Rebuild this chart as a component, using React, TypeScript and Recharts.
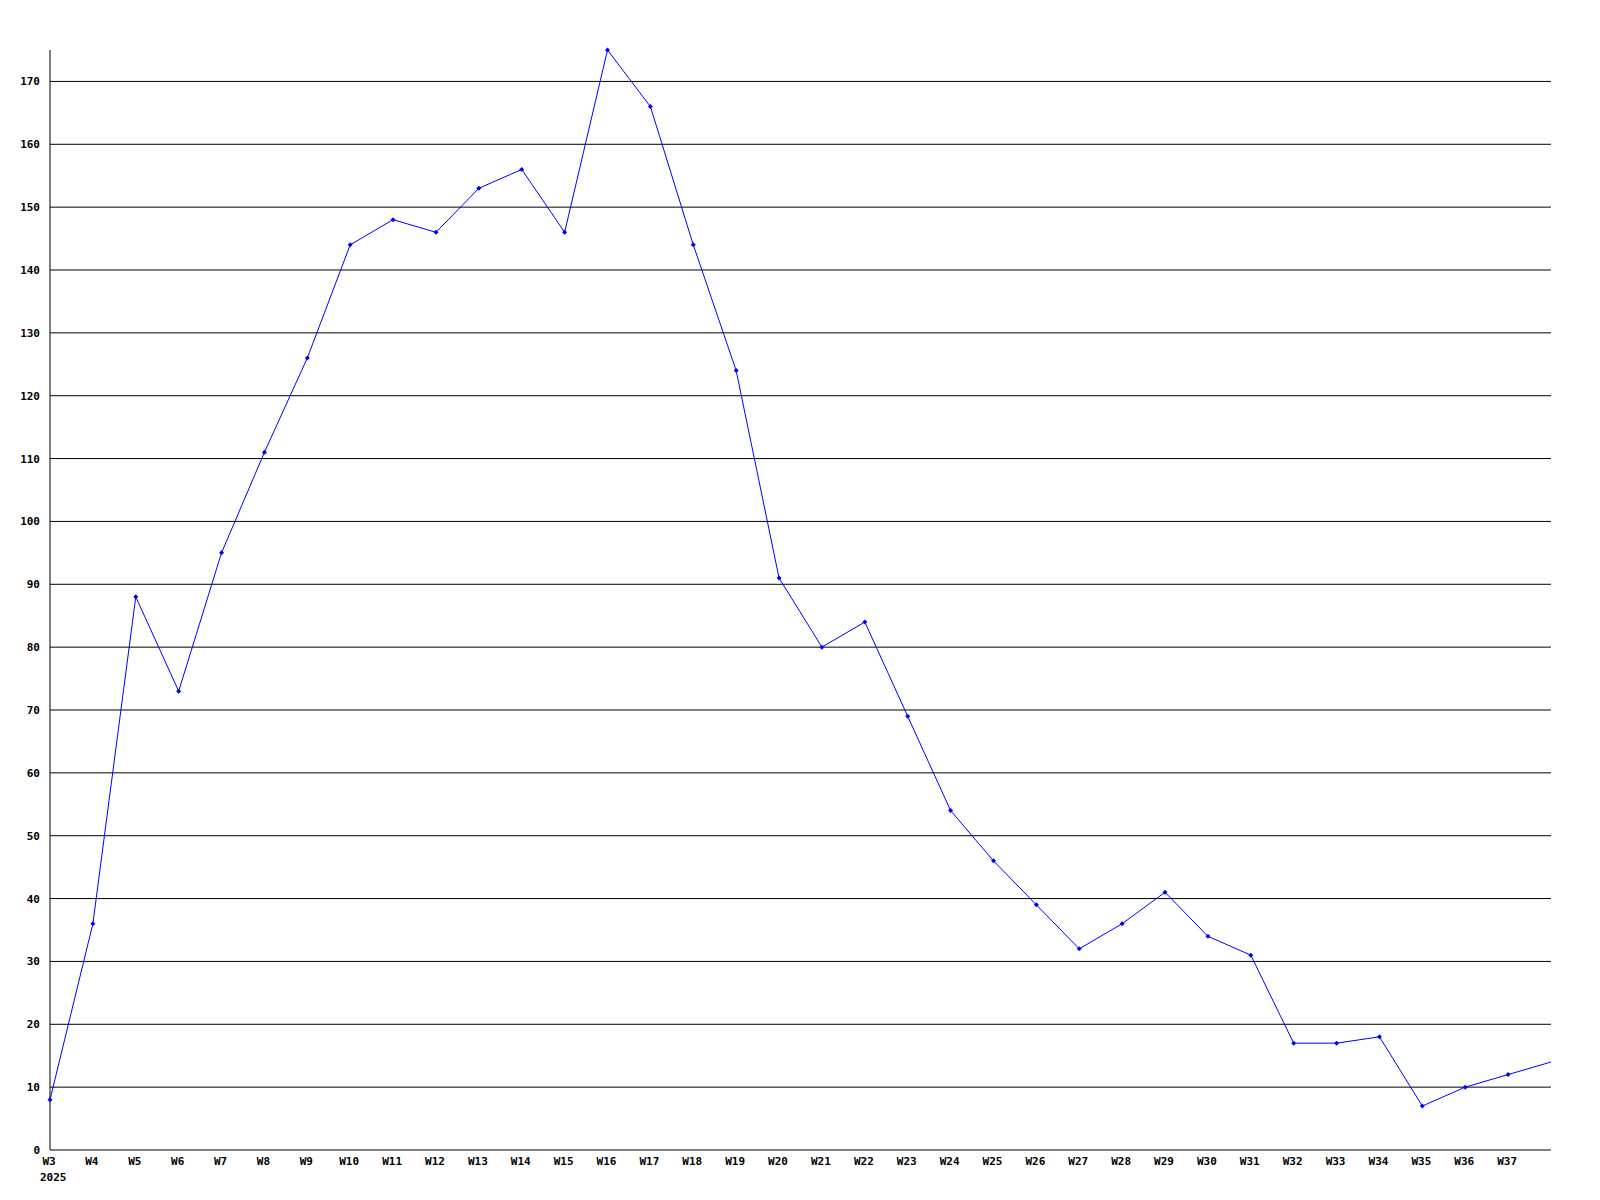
import React from 'react';
import { LineChart, Line, XAxis, YAxis, CartesianGrid } from 'recharts';

const weeks = ['W3','W4','W5','W6','W7','W8','W9','W10','W11','W12','W13','W14','W15','W16','W17','W18','W19','W20','W21','W22','W23','W24','W25','W26','W27','W28','W29','W30','W31','W32','W33','W34','W35','W36','W37','W38'];
const values = [8,36,88,73,95,111,126,144,148,146,153,156,146,175,166,144,124,91,80,84,69,54,46,39,32,36,41,34,31,17,17,18,7,10,12,14];
const yTicks = [0,10,20,30,40,50,60,70,80,90,100,110,120,130,140,150,160,170];
const hiddenTickLabels = ['W38'];
const yearLabel = '2025';

const data = weeks.map((w, i) => ({ week: w, value: values[i] }));

const FONT = '"DejaVu Sans Mono", monospace';

const XTick = (props: any) => {
  const { x, y, payload, index } = props;
  if (hiddenTickLabels.includes(payload.value)) return null;
  return (
    <g>
      <text x={x - 1} y={y} dy={8} textAnchor="middle" fontFamily={FONT} fontSize={11} fontWeight="bold" fill="#000">
        {payload.value}
      </text>
      {index === 0 && (
        <text x={x - 10} y={y} dy={24} textAnchor="start" fontFamily={FONT} fontSize={11} fontWeight="bold" fill="#000">
          {yearLabel}
        </text>
      )}
    </g>
  );
};

const YTick = (props: any) => {
  const { x, y, payload } = props;
  return (
    <text x={x} y={y} dy={4} textAnchor="end" fontFamily={FONT} fontSize={11} fontWeight="bold" fill="#000">
      {payload.value}
    </text>
  );
};

const Dot = (props: any) => {
  const { cx, cy, index } = props;
  if (cx == null || cy == null || index === values.length - 1) return null;
  return <polygon points={`${cx},${cy - 2.5} ${cx + 2.5},${cy} ${cx},${cy + 2.5} ${cx - 2.5},${cy}`} fill="#0000ff" stroke="none" />;
};

export default function App() {
  return (
    <div style={{ position: 'absolute', left: 0, top: 0, width: 1600, height: 1200, background: '#fff' }}>
      <LineChart width={1600} height={1200} data={data} margin={{ top: 50, right: 49, left: 0, bottom: 0 }}>
        <CartesianGrid
          vertical={false}
          stroke="#000"
          strokeWidth={1}
          horizontalValues={yTicks.filter((v) => v > 0)}
        />
        <XAxis
          dataKey="week"
          height={50}
          axisLine={{ stroke: '#000', strokeWidth: 1 }}
          tickLine={false}
          tickSize={0}
          tickMargin={7}
          interval={0}
          tick={<XTick />}
        />
        <YAxis
          width={50}
          domain={[0, 175]}
          ticks={yTicks}
          axisLine={{ stroke: '#000', strokeWidth: 1 }}
          tickLine={false}
          tickSize={0}
          tickMargin={10}
          tick={<YTick />}
        />
        <Line
          type="linear"
          dataKey="value"
          stroke="#0000ff"
          strokeWidth={1}
          dot={<Dot />}
          activeDot={false}
          isAnimationActive={false}
        />
      </LineChart>
    </div>
  );
}
